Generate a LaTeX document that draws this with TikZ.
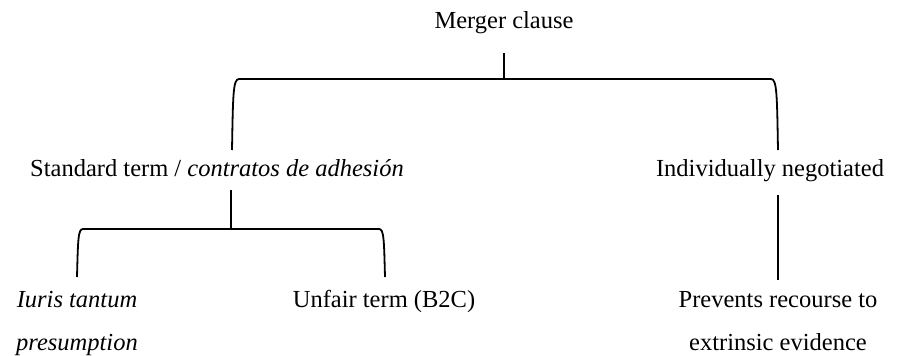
\documentclass[tikz,border=0pt]{standalone}
\usepackage{fontspec}
\setmainfont{Liberation Serif}
\begin{document}
\begin{tikzpicture}[x=1pt,y=-1pt,
  lbl/.style={inner sep=0pt, anchor=base, align=center, font=\fontsize{24.5}{43}\selectfont},
  conn/.style={line width=1.8pt, line cap=butt}]
\useasboundingbox[fill=white] (0,0) rectangle (898,356);
% text nodes (multi-line nodes are anchored at the baseline of their last line)
\node[lbl] (merger) at (504,28) {Merger clause};
\node[lbl] (std) at (217,176) {Standard term / \textit{contratos de adhesión}};
\node[lbl] (ind) at (770,176) {Individually negotiated};
\node[lbl] (iuris) at (77,350) {\textit{Iuris tantum}\\\textit{presumption}};
\node[lbl] (unfair) at (384,307) {Unfair term (B2C)};
\node[lbl] (prev) at (778,350) {Prevents recourse to\\extrinsic evidence};
% coordinates
\coordinate (topL) at (232,150);
\coordinate (topR) at (778,150);
\coordinate (topM) at (504,79);
\coordinate (stdTop) at (231,190);
\coordinate (stdBot) at (231,229);
\coordinate (lowL) at (77,277);
\coordinate (lowR) at (385,277);
\coordinate (indTop) at (778,195);
\coordinate (indBot) at (778,280);
% connectors
\draw[conn] (merger.south |- 0,53) -- (topM);
\draw[conn] (topL) .. controls (233,95) and (233,79) .. (239,79) -- (771,79)
  .. controls (777,79) and (777,95) .. (topR);
\draw[conn] (stdTop) -- (stdBot);
\draw[conn] (lowL) .. controls (78,240) and (78,229) .. (83,229) -- (379,229)
  .. controls (384,229) and (384,240) .. (lowR);
\draw[conn] (indTop) -- (indBot);
\end{tikzpicture}
\end{document}
